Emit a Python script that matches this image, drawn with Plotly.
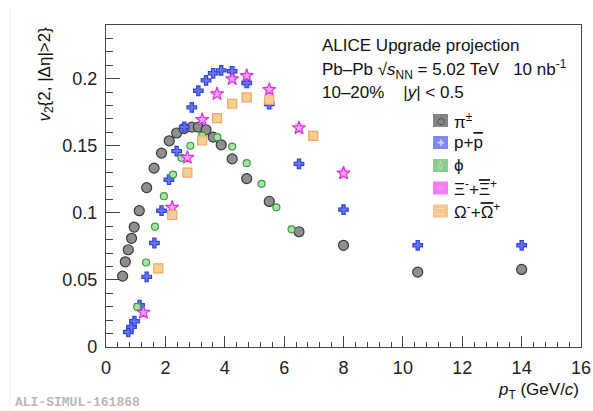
import plotly.graph_objects as go

# ---- data ----
pi_pt = [0.56, 0.65, 0.75, 0.86, 0.95, 1.12, 1.37, 1.62, 1.87, 2.13, 2.38, 2.63, 2.89, 3.11, 3.37, 3.61, 3.88, 4.25, 4.74, 5.5, 6.5, 8.0, 10.5, 14.0]
pi_v2 = [0.0528, 0.0635, 0.0725, 0.081, 0.0894, 0.1016, 0.1188, 0.1333, 0.1445, 0.1537, 0.1595, 0.1628, 0.1639, 0.1639, 0.1619, 0.1564, 0.1507, 0.1402, 0.1255, 0.1085, 0.0859, 0.0758, 0.0558, 0.0578]

p_pt = [0.75, 0.86, 0.96, 1.13, 1.37, 1.63, 1.87, 2.12, 2.38, 2.64, 2.89, 3.11, 3.37, 3.61, 3.88, 4.25, 4.74, 5.5, 6.5, 8.0, 10.5, 14.0]
p_v2 = [0.0112, 0.015, 0.0192, 0.0311, 0.0523, 0.0775, 0.1016, 0.1247, 0.146, 0.164, 0.1786, 0.191, 0.1987, 0.204, 0.2062, 0.2055, 0.1968, 0.1811, 0.1365, 0.1024, 0.0758, 0.0758]
p_err = [0, 0, 0, 0, 0, 0, 0, 0, 0, 0, 0, 0, 0, 0, 0, 0.004, 0.004, 0.004, 0.002, 0.002, 0, 0]

phi_pt = [1.05, 1.35, 1.65, 1.95, 2.26, 2.54, 2.84, 3.24, 3.75, 4.25, 4.74, 5.24, 5.74, 6.25]
phi_v2 = [0.0299, 0.063, 0.0897, 0.1124, 0.1285, 0.141, 0.15, 0.1576, 0.1564, 0.1494, 0.137, 0.1216, 0.1041, 0.0877]

xi_pt = [1.26, 2.23, 2.74, 3.24, 3.74, 4.25, 4.74, 5.5, 6.5, 8.0]
xi_v2 = [0.0257, 0.104, 0.1412, 0.1694, 0.1886, 0.1998, 0.2022, 0.1918, 0.1632, 0.1295]
xi_err = [0, 0, 0, 0, 0, 0.002, 0.002, 0.003, 0.004, 0.004]

om_pt = [1.76, 2.23, 2.74, 3.24, 3.74, 4.25, 4.74, 5.5, 6.98]
om_v2 = [0.0586, 0.0984, 0.13, 0.1539, 0.1706, 0.1813, 0.186, 0.1843, 0.1574]
om_err = [0.002, 0.002, 0.002, 0.002, 0.002, 0.003, 0.003, 0.004, 0.003]

x_ticks = [0, 2, 4, 6, 8, 10, 12, 14, 16]
y_ticks = [0, 0.05, 0.1, 0.15, 0.2]
y_ticktext = ["0", "0.05", "0.1", "0.15", "0.2"]

OL = '<span style="text-decoration:overline">%s</span>'
names = ["π<sup>±</sup>", "p+" + OL % "p", "ϕ",
         "Ξ<sup>-</sup>+" + OL % "Ξ" + "<sup>+</sup>",
         "Ω<sup>-</sup>+" + OL % "Ω" + "<sup>+</sup>"]
legend_glyphs = ["○", "✚", "◊", "☆", "□"]
legend_boxes = ["#858585", "#8088f0", "#8ccc8c", "#f27ef2", "#f6c48e"]
legend_glyph_cols = ["#333333", "#c8d0ff", "#d8f4d8", "#fbd0fb", "#fde6cc"]

FONT = "Liberation Sans, Arial, Helvetica, sans-serif"

fig = go.Figure()

def add(x, y, name, symbol, fill, line, size, err=None, errcol=None):
    kw = {}
    if err is not None:
        kw["error_y"] = dict(type="data", array=err, visible=True, thickness=8, width=0, color=errcol)
    fig.add_trace(go.Scatter(
        x=x, y=y, mode="markers", name=name, showlegend=False,
        marker=dict(symbol=symbol, size=size, color=fill, line=dict(color=line, width=1.2)),
        **kw))

add(pi_pt, pi_v2, names[0], "circle", "#8f8f8f", "#3a3a3a", 10)
add(p_pt, p_v2, names[1], "cross", "rgba(95,110,245,0.95)", "#3545d8", 8, p_err, "rgba(120,140,240,0.35)")
add(phi_pt, phi_v2, names[2], "circle", "rgba(170,225,170,1)", "#3c9c3c", 7)
add(xi_pt, xi_v2, names[3], "star", "rgba(245,160,245,1)", "#d835d8", 10, xi_err, "rgba(240,120,240,0.35)")
add(om_pt, om_v2, names[4], "square", "rgba(248,205,150,1)", "#f0a860", 9, om_err, "rgba(245,180,110,0.35)")

axis_common = dict(
    showline=True, linecolor="#444", linewidth=1.2, mirror=True,
    ticks="inside", tickcolor="#444", tickwidth=1.2,
    showgrid=False, zeroline=False, automargin=False,
    tickfont=dict(family=FONT, size=18, color="#222"),
)

fig.update_xaxes(range=[0, 16], tickvals=x_ticks, ticklen=11,
                 minor=dict(dtick=0.4, ticklen=5, ticks="inside", tickcolor="#444", showgrid=False),
                 ticklabelstandoff=4, **axis_common)
fig.update_yaxes(range=[0, 0.24], tickvals=y_ticks, ticktext=y_ticktext, ticklen=14,
                 minor=dict(dtick=0.01, ticklen=7, ticks="inside", tickcolor="#444", showgrid=False),
                 ticklabelstandoff=4, **axis_common)

W, H, L, T, B = 593, 411, 106, 25, 64
PW, PH = W - L - 12, H - T - B
px = lambda p: (p - L) / PW
py = lambda p: (H - B - p) / PH

# faint image border line on the left
fig.add_shape(type="line", xref="paper", yref="paper", x0=px(10), x1=px(10), y0=py(8), y1=py(411),
              line=dict(color="#ececec", width=1), layer="below")

ann = [
    ("ALICE Upgrade projection", 45),
    ("Pb–Pb √<i>s</i><sub>NN</sub> = 5.02 TeV   10 nb<sup>-1</sup>", 69),
    ("10–20%    |<i>y</i>| < 0.5", 93),
]
for txt, yy in ann:
    fig.add_annotation(xref="paper", yref="paper", x=px(320), y=py(yy), xanchor="left", yanchor="middle",
                       showarrow=False, text=txt, font=dict(family=FONT, size=17, color="#111"))

# legend (ROOT style: coloured box with marker glyph, then label)
rows = [120.5, 142.5, 165.5, 188, 211]
for i, yy in enumerate(rows):
    fig.add_shape(type="rect", xref="paper", yref="paper",
                  x0=px(433), x1=px(448), y0=py(yy + 6.5), y1=py(yy - 6.5),
                  fillcolor=legend_boxes[i], line=dict(width=0), layer="above")
    fig.add_annotation(xref="paper", yref="paper", x=px(440.5), y=py(yy), xanchor="center", yanchor="middle",
                       showarrow=False, text=legend_glyphs[i],
                       font=dict(family="DejaVu Sans", size=9, color=legend_glyph_cols[i]))
    fig.add_annotation(xref="paper", yref="paper", x=px(452), y=py(yy), xanchor="left", yanchor="middle",
                       showarrow=False, text=names[i], font=dict(family=FONT, size=17, color="#111"))

fig.add_annotation(xref="paper", yref="paper", x=px(45), y=1.0, xanchor="center", yanchor="top",
                   textangle=-90, showarrow=False,
                   text="<i>v</i><sub>2</sub>{2, |Δη|>2}",
                   font=dict(family=FONT, size=17, color="#111"))
fig.add_annotation(xref="paper", yref="paper", x=1.0, y=py(391), xanchor="right", yanchor="middle",
                   showarrow=False, text="<i>p</i><sub>T</sub> (GeV/<i>c</i>)",
                   font=dict(family=FONT, size=17, color="#111"))
fig.add_annotation(xref="paper", yref="paper", x=px(13), y=py(402), xanchor="left", yanchor="middle",
                   showarrow=False, text="<b>ALI-SIMUL-161868</b>",
                   font=dict(family="Liberation Mono, Courier New, monospace", size=13, color="#b8b8b8"))

fig.update_layout(
    width=W, height=H,
    margin=dict(l=L, r=12, t=T, b=B),
    paper_bgcolor="white", plot_bgcolor="white",
    showlegend=False,
)

fig.write_html("out.html", config={"displayModeBar": False},
               post_script="document.body.style.margin='0';document.body.style.overflow='hidden';")
